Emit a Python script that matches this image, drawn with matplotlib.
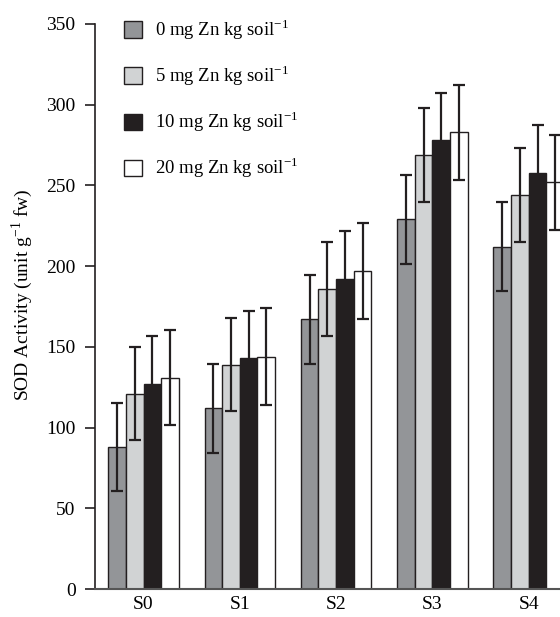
import numpy as np
import matplotlib
matplotlib.use('Agg')
from matplotlib import pyplot as plt

plt.rcParams['font.family'] = 'Liberation Serif'
plt.rcParams['mathtext.fontset'] = 'custom'
plt.rcParams['mathtext.rm'] = 'Liberation Serif'

groups = ['S0', 'S1', 'S2', 'S3', 'S4']
zn_levels = ['0 mg Zn kg soil$^{\\mathregular{-1}}$',
             '5 mg Zn kg soil$^{\\mathregular{-1}}$',
             '10 mg Zn kg soil$^{\\mathregular{-1}}$',
             '20 mg Zn kg soil$^{\\mathregular{-1}}$']

sod_0 = [88, 112, 167, 229, 212]
sod_5 = [121, 139, 186, 269, 244]
sod_10 = [127, 143, 192, 278, 258]
sod_20 = [131, 144, 197, 283, 252]

err_0 = [27.5, 27.5, 27.5, 27.5, 27.5]
err_5 = [29, 29, 29, 29, 29]
err_10 = [29.5, 29.5, 30, 29.5, 29.5]
err_20 = [29.5, 30, 29.5, 29.5, 29.5]

colors = ['#939598', '#d1d3d4', '#231f20', '#ffffff']
edge = '#231f20'

fig = plt.figure(figsize=(5.6, 6.17), dpi=100)
ax = fig.add_axes([95/560, 28/617, 1 - 95/560, (589 - 24)/617])

x = np.arange(len(groups))
w = 0.183
series = [sod_0, sod_5, sod_10, sod_20]
errs = [err_0, err_5, err_10, err_20]
handles = []
for i in range(4):
    b = ax.bar(x + (i - 1.5) * w, series[i], w, yerr=errs[i],
               color=colors[i], edgecolor=edge, linewidth=1.0,
               error_kw=dict(ecolor=edge, elinewidth=1.6, capsize=4.5, capthick=1.6),
               label=zn_levels[i])
    handles.append(b)

ax.set_xlim(-0.504, 4.325)
ax.set_ylim(0, 350)
ax.set_yticks(np.arange(0, 351, 50))
ax.set_xticks(x)
ax.set_xticklabels(groups)
ax.tick_params(axis='y', direction='out', length=7.5, width=1.2, color=edge,
               labelsize=14, pad=6.5)
ax.tick_params(axis='x', length=0, labelsize=14, pad=5)
for s in ['top', 'right']:
    ax.spines[s].set_visible(False)
ax.spines['left'].set_color(edge)
ax.spines['bottom'].set_color('#555555')
ax.spines['left'].set_linewidth(1.2)
ax.spines['bottom'].set_linewidth(1.5)
ax.set_ylabel('SOD Activity (unit g$^{\\mathregular{-1}}$ fw)', fontsize=14)
ax.yaxis.set_label_coords(-60/465, 0.52)

ax.legend(handles=handles, loc='upper left', bbox_to_anchor=(124/560, 1 - 17/617),
          bbox_transform=fig.transFigure, frameon=False, fontsize=13.5,
          handlelength=0.96, handleheight=0.96, handletextpad=0.7,
          labelspacing=1.14, borderpad=0, borderaxespad=0)

fig.savefig('out.png', dpi=100)
